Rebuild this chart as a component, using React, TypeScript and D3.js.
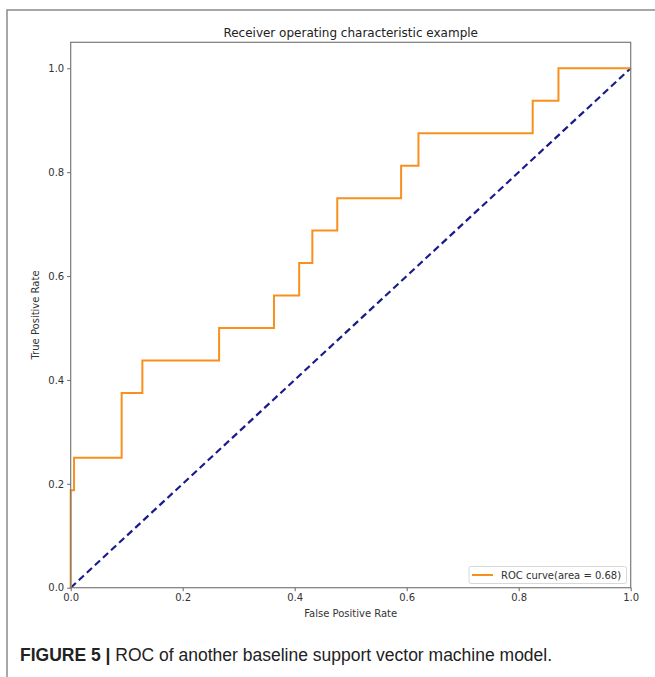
import React, { useEffect, useRef } from "react";
import * as d3 from "d3";

// ROC curve points (false positive rate, true positive rate)
const fprValues = [0, 0, 0.006, 0.006, 0.091, 0.091, 0.128, 0.128, 0.265, 0.265, 0.363, 0.363, 0.408, 0.408, 0.4315, 0.4315, 0.476, 0.476, 0.59, 0.59, 0.621, 0.621, 0.825, 0.825, 0.871, 0.871, 1.0];
const tprValues = [0, 0.1875, 0.1875, 0.25, 0.25, 0.375, 0.375, 0.4375, 0.4375, 0.5, 0.5, 0.5625, 0.5625, 0.625, 0.625, 0.6875, 0.6875, 0.75, 0.75, 0.8125, 0.8125, 0.875, 0.875, 0.9375, 0.9375, 1.0, 1.0];
const diagX = [0, 1];
const diagY = [0, 1];
const xTicks = [0, 0.2, 0.4, 0.6, 0.8, 1.0];
const yTicks = [0, 0.2, 0.4, 0.6, 0.8, 1.0];
const titleText = "Receiver operating characteristic example";
const xLabel = "False Positive Rate";
const yLabel = "True Positive Rate";
const legendLabel = "ROC curve(area = 0.68)";
const captionBold = "FIGURE 5 |";
const captionText = " ROC of another baseline support vector machine model.";

const W = 655;
const H = 677;
const L = 70.7, R = 630.7, T = 42.3, B = 587.7;

export default function App() {
  const ref = useRef<SVGSVGElement | null>(null);

  useEffect(() => {
    const svg = d3.select(ref.current);
    svg.selectAll("*").remove();

    const x = d3.scaleLinear().domain([0, 1]).range([L, R]);
    const y = d3.scaleLinear().domain([0, 1.05]).range([B, T]);
    const font = "'DejaVu Sans', sans-serif";

    // outer figure frame
    svg.append("path")
      .attr("d", `M7,${H} V10 H${W}`)
      .attr("fill", "none")
      .attr("stroke", "#8a8a8a")
      .attr("stroke-width", 1.5);

    // diagonal
    const pts = diagX.map((d, i) => [d, diagY[i]] as [number, number]);
    const line = d3.line<[number, number]>().x(d => x(d[0])).y(d => y(d[1]));
    svg.append("path")
      .attr("d", line(pts)!)
      .attr("fill", "none")
      .attr("stroke", "#1a1a8c")
      .attr("stroke-width", 2.2)
      .attr("stroke-dasharray", "7,4");

    // ROC curve
    const roc = fprValues.map((d, i) => [d, tprValues[i]] as [number, number]);
    svg.append("path")
      .attr("d", line(roc)!)
      .attr("fill", "none")
      .attr("stroke", "#f7901e")
      .attr("stroke-width", 2);

    // axes
    const xa = svg.append("g").attr("transform", `translate(0,${B})`)
      .call(d3.axisBottom(x).tickValues(xTicks).tickFormat(d3.format(".1f")).tickSize(3.5).tickPadding(3));
    const ya = svg.append("g").attr("transform", `translate(${L},0)`)
      .call(d3.axisLeft(y).tickValues(yTicks).tickFormat(d3.format(".1f")).tickSize(3.5).tickPadding(3));
    [xa, ya].forEach(g => {
      g.select(".domain").remove();
      g.selectAll("line").attr("stroke", "#555").attr("stroke-width", 0.9);
      g.selectAll("text").attr("font-family", font).attr("font-size", 10).attr("fill", "#333");
    });

    // spines
    svg.append("rect")
      .attr("x", L).attr("y", T).attr("width", R - L).attr("height", B - T)
      .attr("fill", "none").attr("stroke", "#7a7a7a").attr("stroke-width", 1.2);

    // title and labels
    svg.append("text").attr("x", (L + R) / 2).attr("y", 37)
      .attr("text-anchor", "middle").attr("font-family", font).attr("font-size", 12).attr("fill", "#222")
      .text(titleText);
    svg.append("text").attr("x", (L + R) / 2).attr("y", 617)
      .attr("text-anchor", "middle").attr("font-family", font).attr("font-size", 10).attr("fill", "#333")
      .text(xLabel);
    svg.append("text").attr("transform", `translate(39,${(T + B) / 2}) rotate(-90)`)
      .attr("text-anchor", "middle").attr("font-family", font).attr("font-size", 10).attr("fill", "#333")
      .text(yLabel);

    // legend
    const lg = svg.append("g");
    lg.append("rect").attr("x", 469).attr("y", 566.5).attr("width", 157.5).attr("height", 17)
      .attr("rx", 2).attr("fill", "white").attr("stroke", "#d8d8d8").attr("stroke-width", 1);
    lg.append("line").attr("x1", 472).attr("x2", 493).attr("y1", 575).attr("y2", 575)
      .attr("stroke", "#f7901e").attr("stroke-width", 2);
    lg.append("text").attr("x", 501).attr("y", 578.5)
      .attr("font-family", font).attr("font-size", 10).attr("fill", "#333")
      .text(legendLabel);

    // caption
    const cap = svg.append("text").attr("x", 20).attr("y", 661)
      .attr("font-family", "'Liberation Sans', Arial, sans-serif").attr("font-size", 17.5).attr("fill", "#222");
    cap.append("tspan").attr("font-weight", "bold").text(captionBold);
    cap.append("tspan").text(captionText);
  }, []);

  return (
    <svg ref={ref} width={W} height={H}
      style={{ position: "absolute", left: 0, top: 0, background: "white" }} />
  );
}
